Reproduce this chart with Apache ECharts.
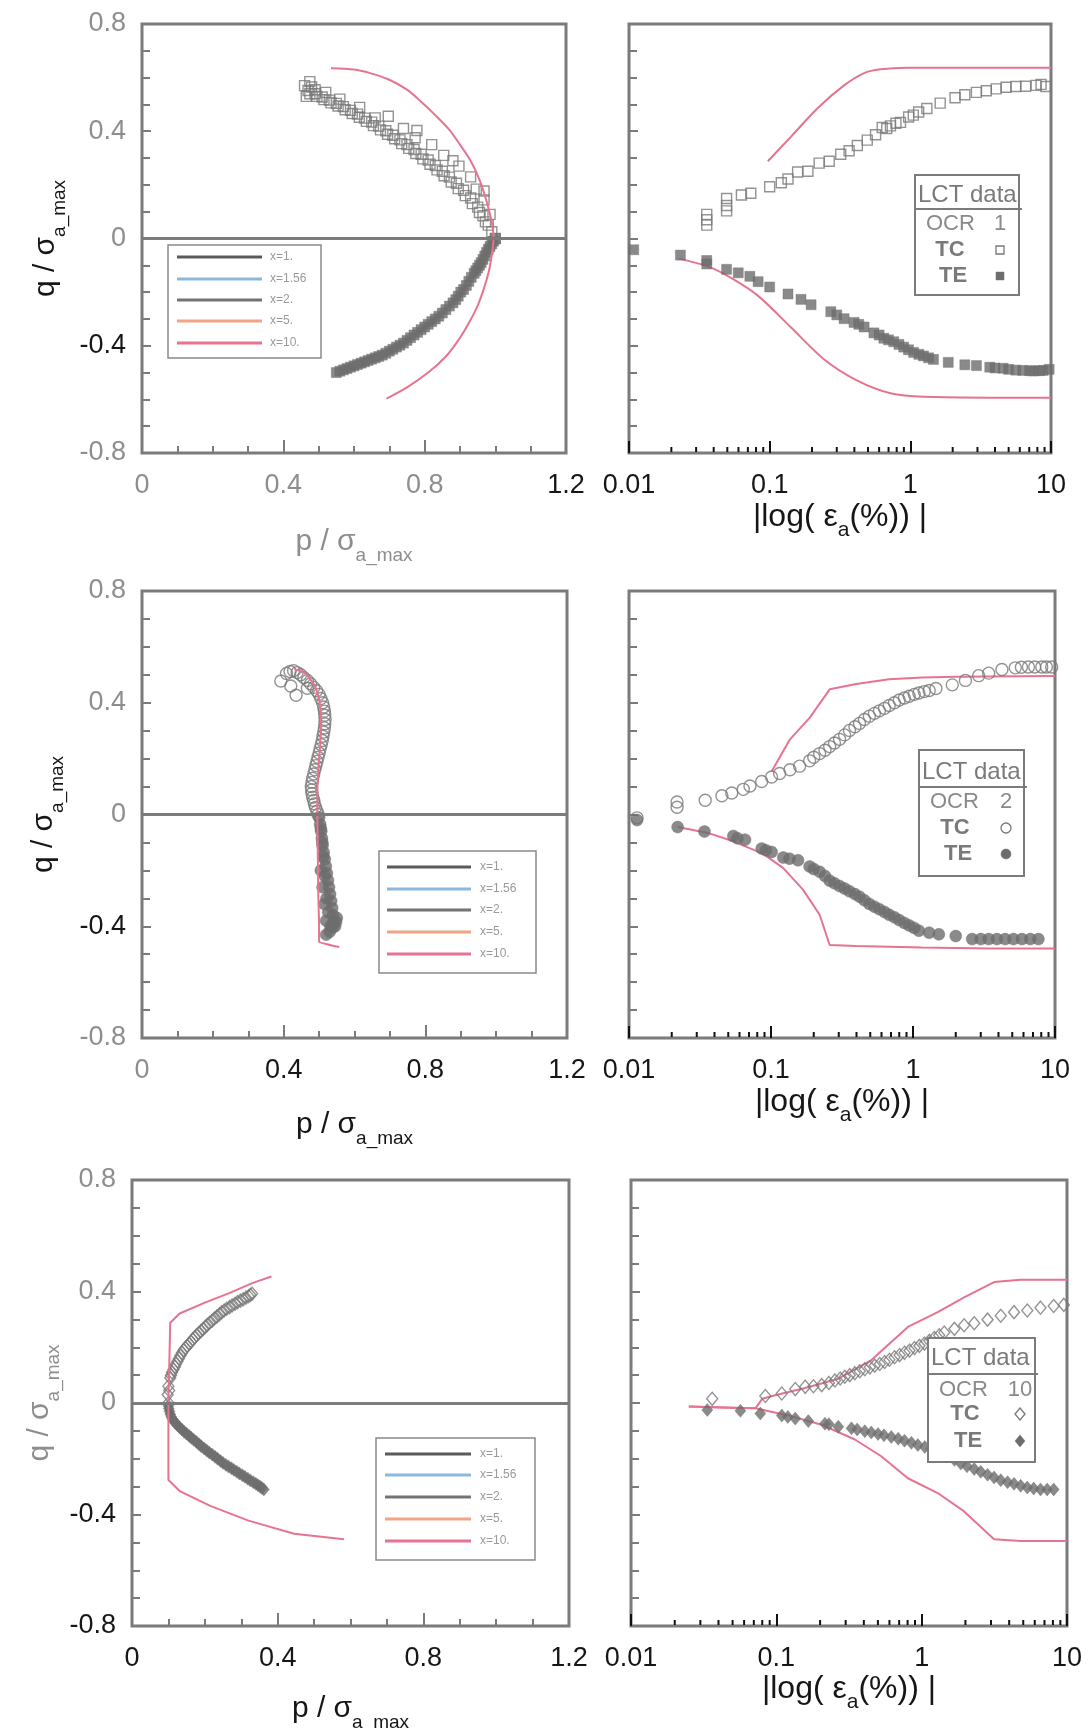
<!DOCTYPE html>
<html>
<head>
<meta charset="utf-8">
<title>Stress paths and strain response, OCR 1 / 2 / 10</title>
<script src="https://cdn.jsdelivr.net/npm/echarts@6.0.0/dist/echarts.min.js"></script>
<style>
html, body { margin: 0; padding: 0; background: #ffffff; }
#chart { width: 1090px; height: 1731px; }
</style>
</head>
<body>
<div id="chart"></div>
<script>
// ---------- axis ticks and legend texts ----------
const pTicks = [0, 0.4, 0.8, 1.2];
const qTicks = [-0.8, -0.4, 0, 0.4, 0.8];
const strainDecades = [0.01, 0.1, 1, 10];
const strainMinorTicks = [0.02, 0.03, 0.04, 0.05, 0.06, 0.07, 0.08, 0.09,
  0.2, 0.3, 0.4, 0.5, 0.6, 0.7, 0.8, 0.9, 2, 3, 4, 5, 6, 7, 8, 9];
const modelNames = ['x=1.', 'x=1.56', 'x=2.', 'x=5.', 'x=10.'];
const ocrValues = ['1', '2', '10'];

// ---------- OCR 1 : stress path (p, q) ----------
const ocr1PathTC = [[0.46,0.57],[0.475,0.585],[0.465,0.53],[0.48,0.565],[0.49,0.555],
  [0.47,0.552],[0.49,0.54],[0.51,0.528],[0.53,0.516],[0.55,0.504],[0.57,0.492],[0.59,0.478],
  [0.61,0.464],[0.63,0.449],[0.65,0.434],[0.67,0.419],[0.69,0.402],[0.71,0.385],[0.73,0.368],
  [0.75,0.35],[0.77,0.332],[0.79,0.314],[0.81,0.293],[0.83,0.272],[0.85,0.251],[0.87,0.229],
  [0.89,0.206],[0.91,0.18],[0.93,0.151],[0.95,0.117],[0.965,0.085],[0.98,0.05],[0.99,0.025],[1.0,0.0],
  [0.475,0.54],[0.495,0.53],[0.515,0.518],[0.535,0.506],[0.555,0.494],[0.575,0.48],[0.595,0.466],
  [0.615,0.452],[0.635,0.437],[0.655,0.421],[0.675,0.405],[0.695,0.389],[0.715,0.372],[0.735,0.354],
  [0.755,0.336],[0.775,0.317],[0.795,0.297],[0.815,0.277],[0.835,0.256],[0.855,0.234],[0.875,0.211],
  [0.895,0.186],[0.915,0.16],[0.935,0.13],[0.955,0.097],[0.972,0.062],
  [0.52,0.545],[0.56,0.52],[0.616,0.489],[0.66,0.45],[0.697,0.456],[0.74,0.41],[0.773,0.376],
  [0.778,0.403],[0.82,0.35],[0.854,0.31],[0.88,0.29],[0.897,0.27],[0.93,0.23],[0.946,0.184],
  [0.968,0.177],[0.968,0.144],[0.985,0.09]];
const ocr1PathTE = [[1.0,0.0],[0.99,-0.02],[0.98,-0.04],[0.97,-0.065],[0.96,-0.09],[0.95,-0.11],
  [0.94,-0.13],[0.925,-0.16],[0.91,-0.19],[0.895,-0.215],[0.88,-0.24],[0.86,-0.265],[0.84,-0.29],
  [0.82,-0.31],[0.80,-0.33],[0.78,-0.35],[0.76,-0.37],[0.74,-0.39],[0.72,-0.405],[0.70,-0.42],
  [0.68,-0.435],[0.66,-0.445],[0.64,-0.455],[0.62,-0.465],[0.60,-0.475],[0.58,-0.485],[0.56,-0.495],[0.55,-0.50],
  [0.995,-0.01],[0.985,-0.03],[0.975,-0.052],[0.965,-0.078],[0.955,-0.1],[0.945,-0.12],[0.932,-0.145],
  [0.918,-0.175],[0.902,-0.2],[0.888,-0.228],[0.87,-0.252],[0.85,-0.278],[0.83,-0.3],[0.81,-0.32],
  [0.79,-0.34],[0.77,-0.36],[0.75,-0.38],[0.73,-0.398],[0.71,-0.413],[0.69,-0.428],[0.67,-0.44],
  [0.65,-0.45],[0.63,-0.46],[0.61,-0.47],[0.59,-0.48],[0.57,-0.49]];
const ocr1PathModel = [[0.535,0.635],[0.60,0.63],[0.65,0.615],[0.70,0.592],[0.75,0.555],[0.79,0.51],
  [0.83,0.46],[0.87,0.405],[0.90,0.35],[0.93,0.29],[0.955,0.22],[0.975,0.14],[0.99,0.06],[0.995,0.0],
  [0.99,-0.06],[0.982,-0.12],[0.968,-0.185],[0.95,-0.25],[0.925,-0.315],[0.895,-0.38],[0.86,-0.44],
  [0.81,-0.5],[0.75,-0.555],[0.692,-0.597]];

// ---------- OCR 1 : strain response (eps_a, q) ----------
const ocr1StrainTC = [[0.0357,0.05],[0.0357,0.07],[0.0357,0.09],[0.0494,0.103],[0.0494,0.123],
  [0.0494,0.149],[0.063,0.162],[0.0734,0.169],[0.1,0.193],[0.121,0.208],[0.135,0.222],[0.158,0.248],
  [0.187,0.251],[0.225,0.281],[0.265,0.288],[0.32,0.314],[0.367,0.327],[0.42,0.347],[0.494,0.367],
  [0.566,0.387],[0.631,0.414],[0.68,0.41],[0.722,0.42],[0.79,0.43],[0.851,0.433],[0.973,0.453],
  [1.05,0.46],[1.146,0.472],[1.31,0.485],[1.63,0.505],[2.08,0.525],[2.44,0.536],[2.95,0.545],
  [3.47,0.551],[4.08,0.558],[4.79,0.564],[5.63,0.567],[6.6,0.568],[7.83,0.571],[8.5,0.575],[9.2,0.567]];
const ocr1StrainTE = [[0.0108,-0.042],[0.0232,-0.062],[0.0357,-0.082],[0.0357,-0.095],[0.0494,-0.115],
  [0.0598,-0.128],[0.0723,-0.141],[0.0828,-0.161],[0.1,-0.181],[0.135,-0.207],[0.167,-0.227],
  [0.197,-0.247],[0.272,-0.273],[0.3,-0.285],[0.338,-0.299],[0.398,-0.313],[0.43,-0.32],[0.469,-0.33],
  [0.551,-0.352],[0.6,-0.36],[0.648,-0.372],[0.7,-0.378],[0.762,-0.385],[0.83,-0.395],[0.897,-0.405],
  [0.97,-0.415],[1.056,-0.425],[1.15,-0.432],[1.24,-0.438],[1.35,-0.445],[1.46,-0.451],[1.86,-0.462],
  [2.44,-0.471],[2.95,-0.474],[3.67,-0.48],[4.0,-0.483],[4.57,-0.484],[5.0,-0.488],[5.63,-0.491],
  [6.3,-0.492],[7.06,-0.493],[7.5,-0.494],[8.3,-0.493],[8.8,-0.492],[9.7,-0.488]];
const ocr1ModelTC = [[0.097,0.288],[0.142,0.38],[0.219,0.486],[0.338,0.571],[0.469,0.617],
  [0.614,0.631],[0.947,0.637],[2.14,0.637],[10,0.637]];
const ocr1ModelTE = [[0.0225,-0.075],[0.0367,-0.105],[0.0535,-0.148],[0.0828,-0.214],[0.142,-0.332],
  [0.244,-0.451],[0.42,-0.53],[0.722,-0.577],[1.24,-0.59],[10,-0.594]];

// ---------- OCR 2 : stress path ----------
const ocr2PathTC = [[0.497,0.0],[0.49,0.025],[0.485,0.05],[0.48,0.075],[0.478,0.10],[0.482,0.13],
  [0.488,0.16],[0.494,0.19],[0.5,0.22],[0.506,0.25],[0.511,0.28],[0.515,0.31],[0.517,0.34],
  [0.515,0.37],[0.51,0.40],[0.50,0.43],[0.485,0.455],[0.467,0.48],[0.448,0.50],[0.428,0.515],
  [0.408,0.505],[0.392,0.478],[0.435,0.427],[0.467,0.452],[0.42,0.46],
  [0.494,0.012],[0.487,0.038],[0.482,0.062],[0.479,0.088],[0.48,0.115],[0.485,0.145],[0.491,0.175],
  [0.497,0.205],[0.503,0.235],[0.509,0.265],[0.513,0.295],[0.516,0.325],[0.516,0.355],[0.513,0.385],
  [0.505,0.415],[0.493,0.443],[0.476,0.468],[0.457,0.49],[0.438,0.508],[0.418,0.512]];
const ocr2PathTE = [[0.50,-0.01],[0.503,-0.035],[0.506,-0.06],[0.508,-0.085],[0.51,-0.11],
  [0.513,-0.135],[0.516,-0.16],[0.519,-0.185],[0.522,-0.21],[0.525,-0.235],[0.528,-0.26],
  [0.531,-0.285],[0.534,-0.31],[0.537,-0.335],[0.539,-0.36],[0.54,-0.385],[0.538,-0.405],
  [0.53,-0.42],[0.52,-0.43],[0.505,-0.2],[0.51,-0.26],[0.515,-0.32],[0.52,-0.38],[0.545,-0.40],[0.55,-0.37],
  [0.505,-0.05],[0.509,-0.1],[0.512,-0.15],[0.516,-0.22],[0.521,-0.3],[0.526,-0.35],[0.532,-0.4],[0.548,-0.385]];
const ocr2PathModel = [[0.43,0.52],[0.455,0.51],[0.475,0.485],[0.49,0.455],[0.50,0.41],[0.505,0.36],
  [0.505,0.30],[0.503,0.25],[0.50,0.20],[0.497,0.14],[0.495,0.08],[0.495,0.0],[0.496,-0.10],
  [0.497,-0.20],[0.498,-0.30],[0.50,-0.40],[0.50,-0.455],[0.525,-0.465],[0.557,-0.474]];

// ---------- OCR 2 : strain response ----------
const ocr2StrainTC = [[0.0114,-0.012],[0.0218,0.026],[0.0218,0.045],[0.0344,0.051],[0.0451,0.067],
  [0.0529,0.077],[0.0638,0.09],[0.0711,0.102],[0.086,0.118],[0.1009,0.134],[0.115,0.147],[0.136,0.16],
  [0.159,0.173],[0.187,0.192],[0.2,0.205],[0.22,0.218],[0.24,0.23],[0.259,0.243],[0.28,0.256],
  [0.304,0.269],[0.33,0.285],[0.357,0.301],[0.39,0.314],[0.42,0.326],[0.455,0.34],[0.493,0.352],
  [0.535,0.362],[0.58,0.371],[0.63,0.38],[0.68,0.39],[0.74,0.4],[0.8,0.41],[0.87,0.417],[0.94,0.423],
  [1.02,0.43],[1.1,0.435],[1.2,0.44],[1.3,0.444],[1.45,0.451],[1.89,0.464],[2.34,0.48],[2.9,0.497],
  [3.41,0.506],[4.23,0.519],[5.25,0.525],[5.8,0.527],[6.5,0.528],[7.2,0.528],[8.07,0.528],[8.7,0.528],[9.48,0.528]];
const ocr2StrainTE = [[0.0114,-0.02],[0.022,-0.045],[0.034,-0.061],[0.0543,-0.077],[0.058,-0.085],
  [0.0656,-0.09],[0.086,-0.122],[0.092,-0.128],[0.101,-0.134],[0.122,-0.154],[0.135,-0.158],
  [0.155,-0.164],[0.187,-0.186],[0.2,-0.195],[0.22,-0.205],[0.24,-0.22],[0.259,-0.237],[0.28,-0.246],
  [0.304,-0.256],[0.33,-0.265],[0.357,-0.275],[0.39,-0.285],[0.42,-0.294],[0.455,-0.307],[0.493,-0.32],
  [0.535,-0.33],[0.58,-0.339],[0.63,-0.349],[0.68,-0.359],[0.74,-0.368],[0.8,-0.378],[0.87,-0.388],
  [0.94,-0.397],[1.02,-0.406],[1.1,-0.416],[1.3,-0.423],[1.52,-0.429],[2.0,-0.435],[2.61,-0.446],
  [3.0,-0.446],[3.41,-0.446],[3.9,-0.446],[4.46,-0.446],[5.1,-0.446],[5.85,-0.446],[6.7,-0.446],[7.64,-0.446]];
const ocr2ModelTC = [[0.101,0.154],[0.136,0.269],[0.187,0.346],[0.259,0.448],[0.398,0.467],
  [0.68,0.484],[1.16,0.49],[2.0,0.493],[10,0.496]];
const ocr2ModelTE = [[0.022,-0.045],[0.0354,-0.065],[0.0543,-0.096],[0.0883,-0.141],[0.122,-0.192],
  [0.168,-0.269],[0.22,-0.359],[0.259,-0.467],[0.398,-0.471],[1.16,-0.476],[3.41,-0.48],[10,-0.48]];

// ---------- OCR 10 : stress path ----------
const ocr10PathTC = [[0.100,0.00],[0.098,0.03],[0.10,0.06],[0.105,0.09],[0.11,0.11],[0.118,0.13],
  [0.125,0.15],[0.133,0.17],[0.142,0.19],[0.152,0.205],[0.162,0.22],[0.172,0.235],[0.183,0.25],
  [0.195,0.265],[0.207,0.28],[0.22,0.295],[0.233,0.31],[0.246,0.325],[0.26,0.338],[0.275,0.35],
  [0.29,0.362],[0.305,0.372],[0.32,0.383],[0.33,0.392],
  [0.102,0.045],[0.107,0.1],[0.114,0.12],[0.121,0.14],[0.129,0.16],[0.137,0.18],[0.147,0.198],
  [0.157,0.213],[0.167,0.228],[0.177,0.243],[0.189,0.258],[0.201,0.273],[0.213,0.288],[0.226,0.303],
  [0.24,0.318],[0.253,0.332],[0.268,0.344],[0.283,0.356],[0.298,0.367],[0.313,0.378],[0.325,0.388]];
const ocr10PathTE = [[0.10,-0.01],[0.103,-0.03],[0.108,-0.05],[0.115,-0.065],[0.125,-0.08],
  [0.137,-0.095],[0.15,-0.11],[0.163,-0.125],[0.177,-0.14],[0.19,-0.155],[0.205,-0.17],[0.22,-0.185],
  [0.235,-0.2],[0.25,-0.215],[0.265,-0.228],[0.28,-0.24],[0.295,-0.253],[0.31,-0.265],[0.325,-0.278],
  [0.34,-0.29],[0.352,-0.3],[0.362,-0.31],
  [0.101,-0.02],[0.105,-0.04],[0.111,-0.058],[0.12,-0.073],[0.131,-0.088],[0.143,-0.103],[0.157,-0.118],
  [0.17,-0.133],[0.184,-0.148],[0.198,-0.163],[0.212,-0.178],[0.228,-0.193],[0.243,-0.208],[0.258,-0.222],
  [0.273,-0.234],[0.288,-0.247],[0.303,-0.259],[0.318,-0.272],[0.333,-0.284],[0.346,-0.295],[0.357,-0.305]];
const ocr10PathModel = [[0.383,0.454],[0.33,0.43],[0.267,0.394],[0.2,0.36],[0.131,0.321],[0.105,0.288],
  [0.1,0.282],[0.1,0.0],[0.1,-0.276],[0.131,-0.316],[0.215,-0.369],[0.32,-0.422],[0.445,-0.469],[0.582,-0.489]];

// ---------- OCR 10 : strain response ----------
const ocr10StrainTC = [[0.0362,0.015],[0.084,0.025],[0.109,0.034],[0.135,0.05],[0.158,0.058],
  [0.18,0.06],[0.205,0.064],[0.23,0.072],[0.253,0.081],[0.275,0.088],[0.296,0.094],[0.32,0.1],
  [0.347,0.107],[0.375,0.114],[0.406,0.121],[0.44,0.128],[0.475,0.134],[0.515,0.14],[0.556,0.147],
  [0.6,0.155],[0.651,0.164],[0.705,0.172],[0.762,0.18],[0.825,0.188],[0.893,0.197],[0.965,0.205],
  [1.045,0.213],[1.13,0.223],[1.22,0.233],[1.32,0.243],[1.43,0.253],[1.68,0.266],[1.96,0.279],
  [2.3,0.286],[2.84,0.299],[3.5,0.313],[4.32,0.326],[5.33,0.332],[6.57,0.342],[8.1,0.348],[9.5,0.352]];
const ocr10StrainTE = [[0.0335,-0.025],[0.0566,-0.028],[0.0776,-0.038],[0.109,-0.045],[0.12,-0.05],
  [0.135,-0.056],[0.166,-0.065],[0.216,-0.074],[0.23,-0.076],[0.267,-0.085],[0.329,-0.091],
  [0.36,-0.095],[0.406,-0.101],[0.45,-0.106],[0.501,-0.111],[0.55,-0.116],[0.618,-0.122],
  [0.69,-0.128],[0.762,-0.135],[0.85,-0.143],[0.941,-0.151],[1.05,-0.158],[1.16,-0.164],
  [1.3,-0.176],[1.51,-0.191],[1.68,-0.204],[1.86,-0.217],[2.05,-0.227],[2.3,-0.237],[2.55,-0.247],
  [2.84,-0.257],[3.15,-0.267],[3.5,-0.277],[3.9,-0.284],[4.32,-0.29],[4.8,-0.297],[5.33,-0.303],
  [5.9,-0.307],[6.57,-0.31],[7.3,-0.31],[8.1,-0.31]];
const ocr10ModelTC = [[0.025,-0.013],[0.0424,-0.016],[0.0717,-0.019],[0.08,0.015],[0.098,0.028],
  [0.158,0.054],[0.267,0.087],[0.451,0.154],[0.804,0.273],[1.29,0.326],[1.96,0.379],[3.15,0.434],
  [4.79,0.442],[10,0.442]];
const ocr10ModelTE = [[0.025,-0.013],[0.0424,-0.016],[0.0717,-0.019],[0.121,-0.045],[0.205,-0.078],
  [0.347,-0.131],[0.527,-0.191],[0.804,-0.27],[1.29,-0.323],[1.96,-0.389],[3.15,-0.489],[4.79,-0.495],[10,-0.495]];

// ---------- styling ----------
const FONT = '"Liberation Sans", Arial, Helvetica, sans-serif';
const FRAME = '#7b7b7b';
const MODEL = '#e6738f';
const MARK = '#6d6d6d';
const OPEN = '#787878';
const GREY_TXT = '#8e8e8e';
const DARK_TXT = '#161616';
const modelColors = ['#5a5a5a', '#8cb8e0', '#737373', '#f2a383', MODEL];

const panels = [
  {
    ocr: ocrValues[0], symbol: 'rect', size: 10, openSize: 10,
    pathTC: ocr1PathTC, pathTE: ocr1PathTE, pathModel: ocr1PathModel, pathSmooth: 0.3,
    strainTC: ocr1StrainTC, strainTE: ocr1StrainTE, modelTC: ocr1ModelTC, modelTE: ocr1ModelTE, strainSmooth: 0.3,
    stressGrid: { left: 142, top: 24, width: 424, height: 429 },
    strainGrid: { left: 629, top: 24, width: 422, height: 429 },
    yDark: [-0.4], xDark: [1.2], yTitle: DARK_TXT, xTitle: GREY_TXT,
    yNameGap: 73, pNameGap: 82, eNameGap: 56,
    box: { x: 168, y: 245, w: 153, h: 113, rows: [12, 34, 55, 76, 98], l0: 9, l1: 94, tx: 102 },
    lct: { x: 915, y: 175, w: 104, h: 120, rows: [20, 34, 49, 75, 101], tcX: 35, teX: 38, symX: 85 }
  },
  {
    ocr: ocrValues[1], symbol: 'circle', size: 12, openSize: 12,
    pathTC: ocr2PathTC, pathTE: ocr2PathTE, pathModel: ocr2PathModel, pathSmooth: 0.2,
    strainTC: ocr2StrainTC, strainTE: ocr2StrainTE, modelTC: ocr2ModelTC, modelTE: ocr2ModelTE, strainSmooth: 0,
    stressGrid: { left: 142, top: 591, width: 425, height: 447 },
    strainGrid: { left: 629, top: 591, width: 426, height: 447 },
    yDark: [-0.4], xDark: [0.4, 0.8, 1.2], yTitle: DARK_TXT, xTitle: DARK_TXT,
    yNameGap: 75, pNameGap: 80, eNameGap: 56,
    box: { x: 379, y: 851, w: 157, h: 122, rows: [16, 38, 59, 81, 103], l0: 8, l1: 92, tx: 101 },
    lct: { x: 919, y: 750, w: 105, h: 126, rows: [22, 37, 52, 78, 104], tcX: 36, teX: 39, symX: 87 }
  },
  {
    ocr: ocrValues[2], symbol: 'diamond', size: [11, 13], openSize: [11, 13],
    pathTC: ocr10PathTC, pathTE: ocr10PathTE, pathModel: ocr10PathModel, pathSmooth: 0,
    strainTC: ocr10StrainTC, strainTE: ocr10StrainTE, modelTC: ocr10ModelTC, modelTE: ocr10ModelTE, strainSmooth: 0,
    stressGrid: { left: 132, top: 1180, width: 437, height: 446 },
    strainGrid: { left: 631, top: 1180, width: 436, height: 446 },
    yDark: [-0.4, -0.8], xDark: [0, 0.4, 0.8, 1.2], yTitle: GREY_TXT, xTitle: DARK_TXT,
    yNameGap: 69, pNameGap: 76, eNameGap: 52,
    box: { x: 376, y: 1438, w: 159, h: 122, rows: [16, 37, 59, 81, 103], l0: 9, l1: 95, tx: 104 },
    lct: { x: 928, y: 1338, w: 107, h: 124, rows: [20, 36, 52, 76, 103], tcX: 37, teX: 40, symX: 92 }
  }
];

// ---------- helpers ----------
const near = (list, v) => list.some(d => Math.abs(d - Number(v)) < 1e-9);

function titleStyle(color, big) {
  const m = big ? 32 : 30, s = big ? 21 : 19;
  return {
    color: color, fontFamily: FONT,
    rich: {
      m: { fontSize: m, lineHeight: m, color: color, fontFamily: FONT, padding: [0, 0, 8, 0], verticalAlign: 'bottom' },
      s: { fontSize: s, lineHeight: s, color: color, fontFamily: FONT, verticalAlign: 'bottom' }
    }
  };
}

function gridOf(r) {
  return Object.assign({ show: true, borderColor: FRAME, borderWidth: 3, backgroundColor: 'transparent',
    containLabel: false, outerBoundsMode: 'none' }, r);
}

function qAxis(gridIndex, pn, withLabels) {
  return {
    gridIndex: gridIndex, type: 'value',
    min: qTicks[0], max: qTicks[qTicks.length - 1], interval: qTicks[1] - qTicks[0],
    axisLine: { show: false, onZero: false }, splitLine: { show: false },
    axisTick: { show: true, inside: true, length: 9, lineStyle: { color: FRAME, width: 2 } },
    minorTick: { show: true, splitNumber: 4, length: 8, lineStyle: { color: FRAME, width: 2 } },
    axisLabel: {
      show: withLabels, margin: 16, fontSize: 27, fontFamily: FONT,
      color: v => (near(pn.yDark, v) ? DARK_TXT : GREY_TXT),
      formatter: v => String(Number(v))
    },
    name: withLabels ? '{m|q / σ}{s|a_max}' : '',
    nameLocation: 'middle', nameGap: pn.yNameGap, nameRotate: 90,
    nameTextStyle: titleStyle(pn.yTitle, false)
  };
}

function pAxis(gridIndex, pn) {
  return {
    gridIndex: gridIndex, type: 'value',
    min: pTicks[0], max: pTicks[pTicks.length - 1], interval: pTicks[1] - pTicks[0],
    axisLine: { show: false, onZero: false }, splitLine: { show: false },
    axisTick: { show: true, inside: true, length: 13, lineStyle: { color: FRAME, width: 2 } },
    minorTick: { show: true, splitNumber: 4, length: 7, lineStyle: { color: FRAME, width: 2 } },
    axisLabel: {
      margin: 19, fontSize: 27, fontFamily: FONT,
      color: v => (near(pn.xDark, v) ? DARK_TXT : GREY_TXT),
      formatter: v => String(Number(v))
    },
    name: '{m|p / σ}{s|a_max}', nameLocation: 'middle', nameGap: pn.pNameGap,
    nameTextStyle: titleStyle(pn.xTitle, false)
  };
}

function strainAxis(gridIndex, pn) {
  return {
    gridIndex: gridIndex, type: 'log', logBase: 10,
    min: strainDecades[0], max: strainDecades[strainDecades.length - 1],
    axisLine: { show: false, onZero: false }, splitLine: { show: false },
    axisTick: { show: true, inside: true, length: 12, lineStyle: { color: '#111111', width: 2 } },
    minorTick: { show: false },
    axisLabel: {
      margin: 19, fontSize: 27, fontFamily: FONT, color: DARK_TXT,
      formatter: v => {
        const d = strainDecades.find(t => Math.abs(Math.log10(t) - Math.log10(Number(v))) < 1e-6);
        return String(d !== undefined ? d : v);
      }
    },
    name: '{m||log( ε}{s|a}{m|(%)) |}', nameLocation: 'middle', nameGap: pn.eNameGap,
    nameTextStyle: titleStyle(DARK_TXT, true)
  };
}

function markers(name, data, xi, pn, filled) {
  return {
    name: name, type: 'scatter', xAxisIndex: xi, yAxisIndex: xi, data: data,
    symbol: pn.symbol, symbolSize: filled ? pn.size : pn.openSize,
    itemStyle: filled
      ? { color: MARK, borderColor: MARK, borderWidth: 0.5 }
      : { color: 'rgba(255,255,255,0)', borderColor: OPEN, borderWidth: 1.4 },
    z: 3, silent: true
  };
}

function modelLine(name, data, xi, smooth, z) {
  return {
    name: name, type: 'line', xAxisIndex: xi, yAxisIndex: xi, data: data,
    showSymbol: false, symbol: 'none', smooth: smooth,
    lineStyle: { color: MODEL, width: 2 }, z: z, silent: true
  };
}

function modelLegend(b) {
  const els = [{
    type: 'rect', shape: { x: b.x, y: b.y, width: b.w, height: b.h },
    style: { fill: '#ffffff', stroke: '#8a8a8a', lineWidth: 1.5 }, z: 100
  }];
  modelNames.forEach((n, k) => {
    const y = b.y + b.rows[k];
    els.push({ type: 'line', shape: { x1: b.x + b.l0, y1: y, x2: b.x + b.l1, y2: y },
      style: { stroke: modelColors[k], lineWidth: 3 }, z: 101 });
    els.push({ type: 'text', x: b.x + b.tx, y: y,
      style: { text: n, fontSize: 12, fontFamily: FONT, fill: '#9a9a9a', textVerticalAlign: 'middle' }, z: 101 });
  });
  return els;
}

function markerShape(kind, cx, cy, filled) {
  const style = filled ? { fill: MARK, stroke: MARK, lineWidth: 0.5 } : { fill: '#ffffff', stroke: OPEN, lineWidth: 1.3 };
  if (kind === 'rect') return { type: 'rect', shape: { x: cx - 4, y: cy - 4, width: 8, height: 8 }, style: style, z: 102 };
  if (kind === 'circle') return { type: 'circle', shape: { cx: cx, cy: cy, r: 5 }, style: style, z: 102 };
  return { type: 'polygon', shape: { points: [[cx, cy - 6], [cx + 5, cy], [cx, cy + 6], [cx - 5, cy]] }, style: style, z: 102 };
}

function lctLegend(pn) {
  const b = pn.lct, r = b.rows;
  const t = (txt, x, y, size, weight, align, fill) => ({
    type: 'text', x: x, y: y, z: 101,
    style: { text: txt, fontSize: size, fontWeight: weight, fontFamily: FONT, fill: fill,
      textAlign: align, textVerticalAlign: 'middle' }
  });
  return [
    { type: 'rect', shape: { x: b.x, y: b.y, width: b.w, height: b.h },
      style: { fill: '#ffffff', stroke: FRAME, lineWidth: 2 }, z: 100 },
    t('LCT data', b.x + 3, b.y + r[0], 24, 'normal', 'left', '#7a7a7a'),
    { type: 'line', shape: { x1: b.x, y1: b.y + r[1], x2: b.x + b.w + 3, y2: b.y + r[1] },
      style: { stroke: FRAME, lineWidth: 2 }, z: 101 },
    t('OCR', b.x + 11, b.y + r[2], 22, 'normal', 'left', '#8a8a8a'),
    t(pn.ocr, b.x + b.symX, b.y + r[2], 22, 'normal', 'center', '#8a8a8a'),
    t('TC', b.x + b.tcX, b.y + r[3], 22, 'bold', 'center', '#7a7a7a'),
    t('TE', b.x + b.teX, b.y + r[4], 22, 'bold', 'center', '#7a7a7a'),
    markerShape(pn.symbol, b.x + b.symX, b.y + r[3], false),
    markerShape(pn.symbol, b.x + b.symX, b.y + r[4], true),
    // box edge drawn last so long labels tuck under it
    { type: 'line', shape: { x1: b.x + b.w, y1: b.y, x2: b.x + b.w, y2: b.y + b.h },
      style: { stroke: FRAME, lineWidth: 2 }, z: 103 }
  ];
}

// ---------- assemble ----------
const grids = [], xAxes = [], yAxes = [], series = [];
let graphics = [];

panels.forEach((pn, i) => {
  const gi = 2 * i, gs = 2 * i + 1;
  grids.push(gridOf(pn.stressGrid), gridOf(pn.strainGrid));
  xAxes.push(pAxis(gi, pn), strainAxis(gs, pn));
  yAxes.push(qAxis(gi, pn, true), qAxis(gs, pn, false));

  const tcPath = markers('TC', pn.pathTC, gi, pn, false);
  tcPath.markLine = {
    silent: true, symbol: ['none', 'none'], label: { show: false }, animation: false,
    lineStyle: { color: FRAME, width: 3, type: 'solid' }, data: [{ yAxis: 0 }]
  };
  series.push(
    tcPath,
    markers('TE', pn.pathTE, gi, pn, true),
    modelLine(modelNames[4], pn.pathModel, gi, pn.pathSmooth, 4),
    modelLine(modelNames[4], pn.modelTC, gs, pn.strainSmooth, 2),
    modelLine(modelNames[4], pn.modelTE, gs, pn.strainSmooth, 2),
    markers('TC', pn.strainTC, gs, pn, false),
    markers('TE', pn.strainTE, gs, pn, true),
    {
      // minor decade ticks along the bottom of the log axis
      type: 'custom', xAxisIndex: gs, yAxisIndex: gs, silent: true, clip: false, z: 5,
      data: strainMinorTicks.map(v => [v, qTicks[0]]),
      renderItem: (params, api) => {
        const pt = api.coord([api.value(0), api.value(1)]);
        return { type: 'line', shape: { x1: pt[0], y1: pt[1] - 1, x2: pt[0], y2: pt[1] - 6 },
          style: { stroke: '#111111', lineWidth: 2 } };
      }
    }
  );
  graphics = graphics.concat(modelLegend(pn.box), lctLegend(pn));
});

const chart = echarts.init(document.getElementById('chart'), null, { renderer: 'canvas' });
chart.setOption({
  animation: false,
  backgroundColor: '#ffffff',
  grid: grids,
  xAxis: xAxes,
  yAxis: yAxes,
  series: series,
  graphic: graphics
});
</script>
</body>
</html>
